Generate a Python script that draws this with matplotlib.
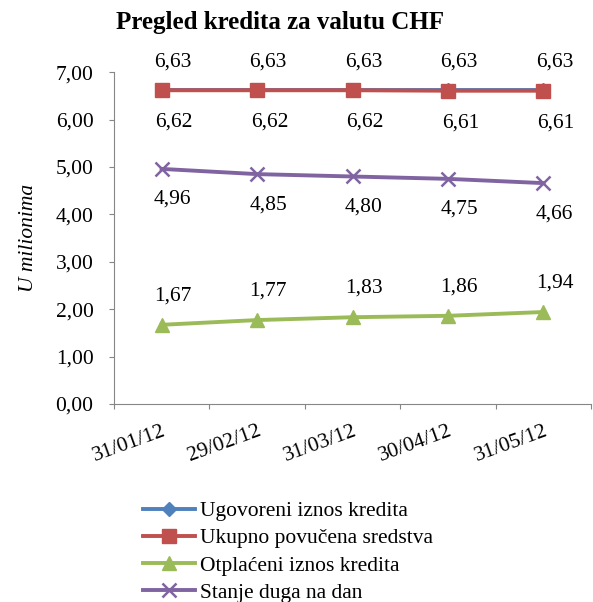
import matplotlib.pyplot as plt
import numpy as np

plt.rcParams['font.family'] = ['Liberation Serif', 'DejaVu Serif']

dates = ['31/01/12', '29/02/12', '31/03/12', '30/04/12', '31/05/12']
ugovoreni = [6.63, 6.63, 6.63, 6.63, 6.63]
povucena = [6.62, 6.62, 6.62, 6.61, 6.61]
otplaceni = [1.67, 1.77, 1.83, 1.86, 1.94]
stanje = [4.96, 4.85, 4.80, 4.75, 4.66]

def fmt(v):
    return ('%.2f' % v).replace('.', ',')

fs = 15.5
fig = plt.figure(figsize=(5.93, 6.02), dpi=100)
ax = fig.add_axes([0.192, 0.329, 0.805, 0.551])

x = np.arange(len(dates))
lw = 2.8
ax.plot(x, ugovoreni, color='#4F81BD', lw=lw, marker='D', ms=7, label='Ugovoreni iznos kredita')
ax.plot(x, povucena, color='#C0504D', lw=lw, marker='s', ms=10.5, label='Ukupno povučena sredstva')
ax.plot(x, otplaceni, color='#9BBB59', lw=lw, marker='^', ms=10.5, label='Otplaćeni iznos kredita')
ax.plot(x, stanje, color='#8064A2', lw=lw, marker='x', ms=10, mew=1.8, label='Stanje duga na dan')

lab = dict(fontsize=fs, ha='center', va='center', textcoords='offset points')
for i in x:
    ax.annotate(fmt(ugovoreni[i]), (i, ugovoreni[i]), xytext=(8, 20), **lab)
    ax.annotate(fmt(povucena[i]), (i, povucena[i]), xytext=(9, -23), **lab)
    ax.annotate(fmt(otplaceni[i]), (i, otplaceni[i]), xytext=(8, 21), **lab)
    ax.annotate(fmt(stanje[i]), (i, stanje[i]), xytext=(8, -22), **lab)

ax.set_xlim(-0.5, 4.5)
ax.set_ylim(0, 7)
ax.set_yticks(np.arange(0, 8, 1))
ax.set_yticklabels([fmt(v) for v in np.arange(0, 8, 1)], fontsize=fs)
ax.set_xticks(np.arange(-0.5, 5, 1))
ax.set_xticklabels([])
ax.set_xticks(x, minor=True)
ax.set_xticklabels(dates, minor=True, rotation=20, ha='right', rotation_mode='anchor', fontsize=fs)
ax.tick_params(axis='x', which='minor', length=0, pad=13)
ax.tick_params(axis='both', which='major', direction='out', length=3.6, color='#868686')
ax.tick_params(axis='y', pad=11)
for s in ['top', 'right']:
    ax.spines[s].set_visible(False)
for s in ['left', 'bottom']:
    ax.spines[s].set_color('#868686')
ax.set_ylabel('U milionima', fontsize=fs, style='italic', labelpad=13)

fig.text(0.472, 0.962, 'Pregled kredita za valutu CHF', ha='center', va='center',
         fontsize=18, fontweight='bold')

fig.legend(loc='center left', bbox_to_anchor=(0.227, 0.083), frameon=False, fontsize=fs,
           handlelength=2.4, labelspacing=0.33, handletextpad=0.25, borderaxespad=0)

fig.savefig('out.png', dpi=100)
